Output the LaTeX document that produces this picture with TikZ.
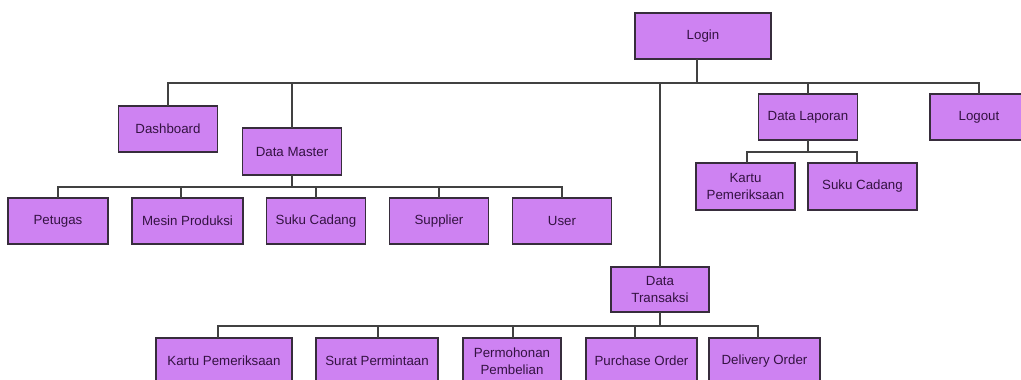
\documentclass[tikz,border=0pt]{standalone}
\usepackage{fontspec}
\setmainfont{Liberation Sans}
\definecolor{boxfill}{RGB}{206,130,242}
\definecolor{boxline}{RGB}{55,45,60}
\definecolor{boxtext}{RGB}{52,18,66}
\definecolor{connline}{RGB}{65,65,65}
\tikzset{
  menubox/.style={draw=boxline, fill=boxfill, line width=1.3pt, inner sep=0pt, outer sep=0pt,
    minimum height=46pt, align=center, text=boxtext, font=\fontsize{13.3}{17}\selectfont},
  conn/.style={draw=connline, line width=1.5pt}
}
\begin{document}
\begin{tikzpicture}[x=1pt,y=-1pt]
\useasboundingbox (0,0) rectangle (1021,380);
\clip (0,0) rectangle (1021,380);
\fill[white] (0,0) rectangle (1021,380);

% bus lines
\coordinate (busA) at (0,83);
\coordinate (busB) at (0,187);
\coordinate (busC) at (0,152);
\coordinate (busD) at (0,326);

% nodes
\node[menubox, minimum width=136pt] (login) at (703,36) {Login};
\node[menubox, minimum width=99pt] (dash) at (168,129) {Dashboard};
\node[menubox, minimum width=99pt, minimum height=47pt] (dm) at (292,151.5) {Data Master};
\node[menubox, minimum width=99pt] (dl) at (808,117) {Data Laporan};
\node[menubox, minimum width=98pt] (logout) at (979,117) {Logout};
\node[menubox, minimum width=98pt, minimum height=45pt] (dt) at (660,289.5) {Data\\Transaksi};

\node[menubox, minimum width=100pt] (petugas) at (58,221) {Petugas};
\node[menubox, minimum width=111pt] (mesin) at (187.5,221) {Mesin Produksi};
\node[menubox, minimum width=99pt] (suku) at (316,221) {Suku Cadang};
\node[menubox, minimum width=99pt] (supplier) at (439,221) {Supplier};
\node[menubox, minimum width=99pt] (user) at (562,221) {User};

\node[menubox, minimum width=99pt, minimum height=47pt] (kartuL) at (745.5,186.5) {Kartu\\Pemeriksaan};
\node[menubox, minimum width=109pt, minimum height=47pt] (sukuL) at (862.5,186.5) {Suku Cadang};

\node[menubox, minimum width=136pt] (kartuT) at (224,361) {Kartu Pemeriksaan};
\node[menubox, minimum width=122pt] (surat) at (377,361) {Surat Permintaan};
\node[menubox, minimum width=98pt] (perm) at (512,361) {Permohonan\\Pembelian};
\node[menubox, minimum width=111pt] (po) at (641.5,361) {Purchase Order};
\node[menubox, minimum width=111pt] (do) at (764.5,361) {Delivery Order};

% level 1
\draw[conn] ([xshift=-6pt]login.south) -- ([xshift=-6pt]login.south |- busA);
\draw[conn] (dash.north) -- (dash.north |- busA) -- (logout.north |- busA) -- (logout.north);
\draw[conn] (dm.north) -- (dm.north |- busA);
\draw[conn] (dt.north) -- (dt.north |- busA);
\draw[conn] (dl.north) -- (dl.north |- busA);

% data master
\draw[conn] (dm.south) -- (dm.south |- busB);
\draw[conn] (petugas.north) -- (petugas.north |- busB) -- (user.north |- busB) -- (user.north);
\draw[conn] ([xshift=-6.5pt]mesin.north) -- ([xshift=-6.5pt]mesin.north |- busB);
\draw[conn] (suku.north) -- (suku.north |- busB);
\draw[conn] (supplier.north) -- (supplier.north |- busB);

% data laporan
\draw[conn] (dl.south) -- (dl.south |- busC);
\draw[conn] ([xshift=1.5pt]kartuL.north) -- ([xshift=1.5pt]kartuL.north |- busC) -- ([xshift=-5.5pt]sukuL.north |- busC) -- ([xshift=-5.5pt]sukuL.north);

% data transaksi
\draw[conn] (dt.south) -- (dt.south |- busD);
\draw[conn] ([xshift=-6pt]kartuT.north) -- ([xshift=-6pt]kartuT.north |- busD) -- ([xshift=-6.5pt]do.north |- busD) -- ([xshift=-6.5pt]do.north);
\draw[conn] ([xshift=1pt]surat.north) -- ([xshift=1pt]surat.north |- busD);
\draw[conn] ([xshift=1pt]perm.north) -- ([xshift=1pt]perm.north |- busD);
\draw[conn] ([xshift=-6.5pt]po.north) -- ([xshift=-6.5pt]po.north |- busD);
\end{tikzpicture}
\end{document}
